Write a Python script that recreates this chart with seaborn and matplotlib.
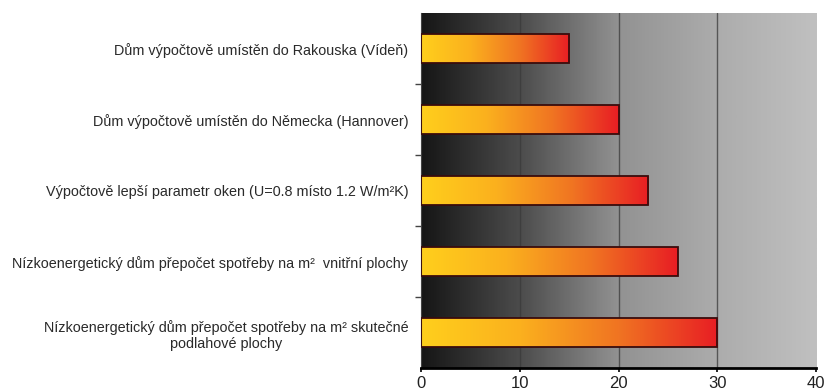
import numpy as np
import pandas as pd
import matplotlib
matplotlib.use("Agg")
import matplotlib.pyplot as plt
from matplotlib.colors import LinearSegmentedColormap
from matplotlib.ticker import FixedLocator
import seaborn as sns

# data
labels = [
    "Dům výpočtově umístěn do Rakouska (Vídeň)",
    "Dům výpočtově umístěn do Německa (Hannover)",
    "Výpočtově lepší parametr oken (U=0.8 místo 1.2 W/m²K)",
    "Nízkoenergetický dům přepočet spotřeby na m²  vnitřní plochy",
    "Nízkoenergetický dům přepočet spotřeby na m² skutečné\npodlahové plochy",
]
values = [15, 20, 23, 26, 30]
x_ticks = [0, 10, 20, 30, 40]

df = pd.DataFrame({"label": labels, "value": values})

sns.set_style("white")
plt.rcParams["font.family"] = ["Liberation Sans", "DejaVu Sans"]

fig = plt.figure(figsize=(8.25, 3.92), dpi=100)
ax = fig.add_axes([0.5103, 0.0612, 0.4788, 0.9056])

sns.barplot(data=df, x="value", y="label", orient="h", order=labels,
            width=0.41, ax=ax, zorder=3)

ax.set_xlim(0, 40)
ax.set_ylim(len(labels) - 0.5, -0.5)

# background gradient (dark -> light grey)
bg_cmap = LinearSegmentedColormap.from_list(
    "bg", [(0, "#161616"), (0.25, "#4c4c4c"), (0.5, "#929292"),
           (0.75, "#acacac"), (1.0, "#c0c0c0")])
grad = np.linspace(0, 1, 400).reshape(1, -1)
ax.imshow(grad, cmap=bg_cmap, aspect="auto",
          extent=[0, 40, len(labels) - 0.5, -0.5], zorder=0)

# gradient fill for bars
bar_cmap = LinearSegmentedColormap.from_list(
    "bar", ["#ffcf1c", "#fbb01e", "#f07422", "#e81e24"])
for p in ax.patches:
    x0, y0 = p.get_x(), p.get_y()
    w, h = p.get_width(), p.get_height()
    p.set_facecolor("none")
    p.set_edgecolor("#3a0c0c")
    p.set_linewidth(1.3)
    im = ax.imshow(grad, cmap=bar_cmap, aspect="auto",
                   extent=[x0, x0 + w, y0 + h, y0], zorder=2)
    im.set_clip_path(p)

ax.set_xlim(0, 40)
ax.set_ylim(len(labels) - 0.5, -0.5)

# grid lines
for gx in [10, 20, 30]:
    ax.axvline(gx, color="#3a3a3a", lw=1, alpha=0.75, zorder=1)

ax.set_xlabel("")
ax.set_ylabel("")

ax.xaxis.set_major_locator(FixedLocator(x_ticks))
ax.set_xticklabels([str(t) for t in x_ticks], fontsize=12, color="#222222")
ax.tick_params(axis="x", which="major", length=3, width=1.2, color="black",
               direction="out", pad=3, bottom=True)

ax.yaxis.set_minor_locator(FixedLocator(np.arange(0.5, len(labels) - 1, 1.0)))
ax.tick_params(axis="y", which="major", length=0, pad=9, labelsize=10.4,
               labelcolor="#2a2a2a")
ax.tick_params(axis="y", which="minor", length=4, width=1, color="#444444",
               direction="out", left=True)
for t in ax.get_yticklabels():
    t.set_multialignment("center")

for s in ["top", "right"]:
    ax.spines[s].set_visible(False)
ax.spines["bottom"].set_color("black")
ax.spines["bottom"].set_linewidth(2)
ax.spines["left"].set_color("#444444")
ax.spines["left"].set_linewidth(0.8)

fig.savefig("out.png", dpi=100)
